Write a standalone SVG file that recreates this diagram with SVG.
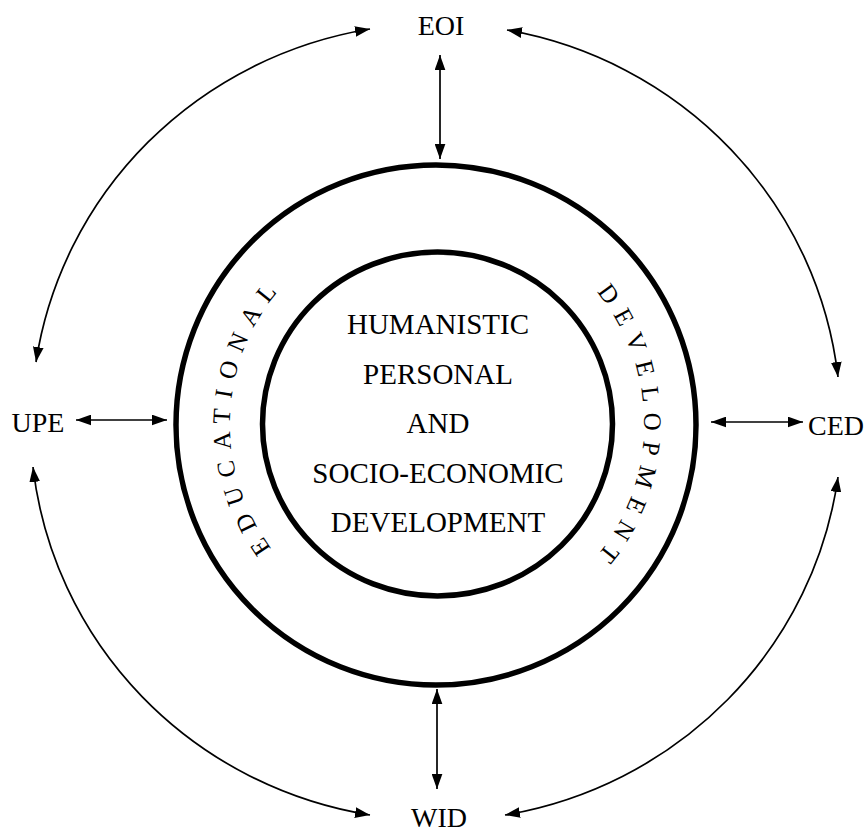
<svg xmlns="http://www.w3.org/2000/svg" xmlns:xlink="http://www.w3.org/1999/xlink" width="867" height="834" viewBox="0 0 867 834">
  <style>
    .label { font-family: "Liberation Serif", "Times New Roman", serif; font-size: 28px; fill: #000; text-anchor: middle; }
    .core { font-family: "Liberation Serif", "Times New Roman", serif; font-size: 29px; fill: #000; text-anchor: middle; }
    .ring-text { font-family: "Liberation Serif", "Times New Roman", serif; font-size: 25px; fill: #000; letter-spacing: 10px; text-anchor: middle; }
    .ring { fill: none; stroke: #000; stroke-width: 5.5; }
    .link { fill: none; stroke: #000; stroke-width: 1.7; marker-start: url(#head); marker-end: url(#head); }
  </style>
  <defs>
    <marker id="head" markerUnits="userSpaceOnUse" markerWidth="15" markerHeight="11" viewBox="0 0 14 10" refX="14" refY="5" orient="auto-start-reverse">
      <path d="M0,0 L14,5 L0,10 Z" fill="#000"/>
    </marker>
    <!-- clockwise circle from the top, baseline for the ring lettering -->
    <path id="ringPath" d="M437,217 A207,207 0 1 1 437,631 A207,207 0 1 1 437,217"/>
  </defs>
  <rect width="867" height="834" fill="#fff"/>

  <g id="connectors">
    <line class="link" x1="440" y1="55" x2="440" y2="159"/>
    <line class="link" x1="437" y1="689" x2="437" y2="789"/>
    <line class="link" x1="76" y1="420" x2="167" y2="420"/>
    <line class="link" x1="711" y1="422" x2="803" y2="422"/>
    <path class="link" d="M36,362 A405,398 0 0 1 370,29"/>
    <path class="link" d="M507,30 A405,398 0 0 1 838,377"/>
    <path class="link" d="M838,477 A405,398 0 0 1 505,815"/>
    <path class="link" d="M370,815 A405,398 0 0 1 33,467"/>
  </g>

  <g id="educational-development-ring">
    <circle class="ring" cx="436" cy="425" r="260"/>
    <text class="ring-text"><textPath xlink:href="#ringPath" startOffset="985">EDUCATIONAL</textPath></text>
    <text class="ring-text"><textPath xlink:href="#ringPath" startOffset="329">DEVELOPMENT</textPath></text>
  </g>

  <g id="core">
    <ellipse class="ring" cx="437.5" cy="424" rx="175" ry="172"/>
    <text class="core" x="438" y="334">HUMANISTIC</text>
    <text class="core" x="438" y="383.5">PERSONAL</text>
    <text class="core" x="438" y="433">AND</text>
    <text class="core" x="438" y="482.5">SOCIO-ECONOMIC</text>
    <text class="core" x="438" y="532">DEVELOPMENT</text>
  </g>

  <g id="EOI"><text class="label" x="441" y="35">EOI</text></g>
  <g id="UPE"><text class="label" x="38" y="432">UPE</text></g>
  <g id="CED"><text class="label" x="836" y="435">CED</text></g>
  <g id="WID"><text class="label" x="439" y="827">WID</text></g>
</svg>
